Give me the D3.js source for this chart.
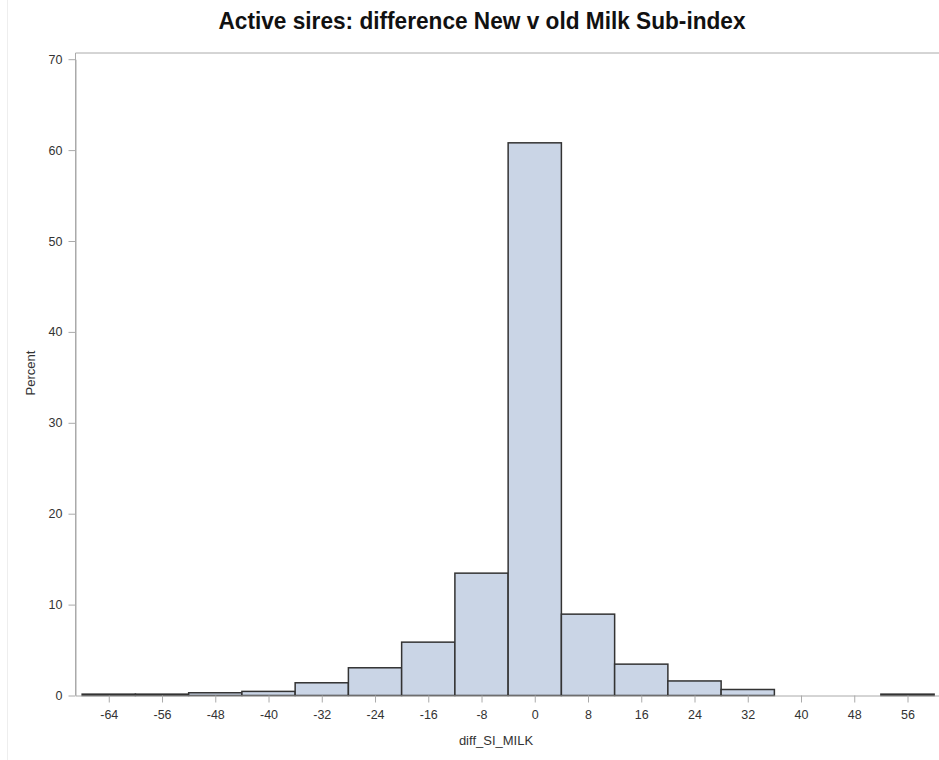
<!DOCTYPE html>
<html>
<head>
<meta charset="utf-8">
<script src="https://cdn.jsdelivr.net/npm/d3@7"></script>
<style>
  body { margin: 0; background: #fff; }
  svg { display: block; }
  .tick text { font-family: "Liberation Sans", Arial, sans-serif; font-size: 12.5px; fill: #333; }
</style>
</head>
<body>
<div id="chart"></div>
<script>
"use strict";

// histogram bins (midpoints, width 8) and percent per bin
let binMids = [-64, -56, -48, -40, -32, -24, -16, -8, 0, 8, 16, 24, 32, 40, 48, 56];
let percents = [0.15, 0.15, 0.3, 0.45, 1.4, 3.05, 5.87, 13.46, 60.8, 8.95, 3.45, 1.6, 0.66, 0, 0, 0.15];
let binWidth = 8;
let xTicks = [-64, -56, -48, -40, -32, -24, -16, -8, 0, 8, 16, 24, 32, 40, 48, 56];
let yTicks = [0, 10, 20, 30, 40, 50, 60, 70];

let width = 939;
let height = 760;
let plot = { left: 75.5, top: 53, bottom: 695.5 };

let svg = d3.select('#chart')
  .append('svg')
  .attr('width', width)
  .attr('height', height);

// faint outer border of the original image
svg.append('line')
  .attr('x1', 7.5).attr('x2', 7.5)
  .attr('y1', 0).attr('y2', height)
  .attr('stroke', '#eee');

let x = d3.scaleLinear()
  .domain([-69, 61])
  .range([plot.left, plot.left + 130 * 6.656]);

let y = d3.scaleLinear()
  .domain([0, 70])
  .range([plot.bottom, plot.bottom - 70 * 9.09]);

let data = binMids.map((m, i) => ({ x0: m - binWidth / 2, x1: m + binWidth / 2, v: percents[i] }));

svg.append('g')
  .selectAll('rect')
  .data(data.filter(d => d.v > 0))
  .enter()
  .append('rect')
  .attr('x', d => x(d.x0))
  .attr('width', d => x(d.x1) - x(d.x0))
  .attr('y', d => y(d.v))
  .attr('height', d => y(0) - y(d.v))
  .attr('fill', '#cad5e6')
  .attr('stroke', '#333')
  .attr('stroke-width', 1.5);

// frame: left and top
svg.append('path')
  .attr('d', 'M' + plot.left + ',' + plot.bottom + 'V' + plot.top + 'H' + width)
  .attr('fill', 'none')
  .attr('stroke', '#aaa')
  .attr('stroke-width', 1);

let plain = d => String(d);

let xAxis = svg.append('g')
  .attr('transform', 'translate(0,' + plot.bottom + ')')
  .call(d3.axisBottom(x).tickValues(xTicks).tickFormat(plain)
    .tickSize(7).tickPadding(8).tickSizeOuter(0));

let yAxis = svg.append('g')
  .attr('transform', 'translate(' + plot.left + ',0)')
  .call(d3.axisLeft(y).tickValues(yTicks).tickFormat(plain)
    .tickSize(7).tickPadding(6).tickSizeOuter(0));

[xAxis, yAxis].forEach(a => {
  a.select('.domain').attr('stroke', '#aaa');
  a.selectAll('.tick line').attr('stroke', '#aaa');
});

svg.append('text')
  .attr('x', 482)
  .attr('y', 29)
  .attr('text-anchor', 'middle')
  .attr('font-family', '"Liberation Sans Narrow", "Liberation Sans", Arial, sans-serif')
  .attr('font-weight', 'bold')
  .attr('font-size', 24)
  .attr('fill', '#111')
  .attr('textLength', 527)
  .attr('lengthAdjust', 'spacingAndGlyphs')
  .text('Active sires: difference New v old Milk Sub-index');

svg.append('text')
  .attr('x', 496)
  .attr('y', 745)
  .attr('text-anchor', 'middle')
  .attr('font-family', '"Liberation Sans", Arial, sans-serif')
  .attr('font-size', 13)
  .attr('fill', '#333')
  .text('diff_SI_MILK');

svg.append('text')
  .attr('transform', 'translate(35,373) rotate(-90)')
  .attr('text-anchor', 'middle')
  .attr('font-family', '"Liberation Sans", Arial, sans-serif')
  .attr('font-size', 13)
  .attr('fill', '#333')
  .text('Percent');
</script>
</body>
</html>
